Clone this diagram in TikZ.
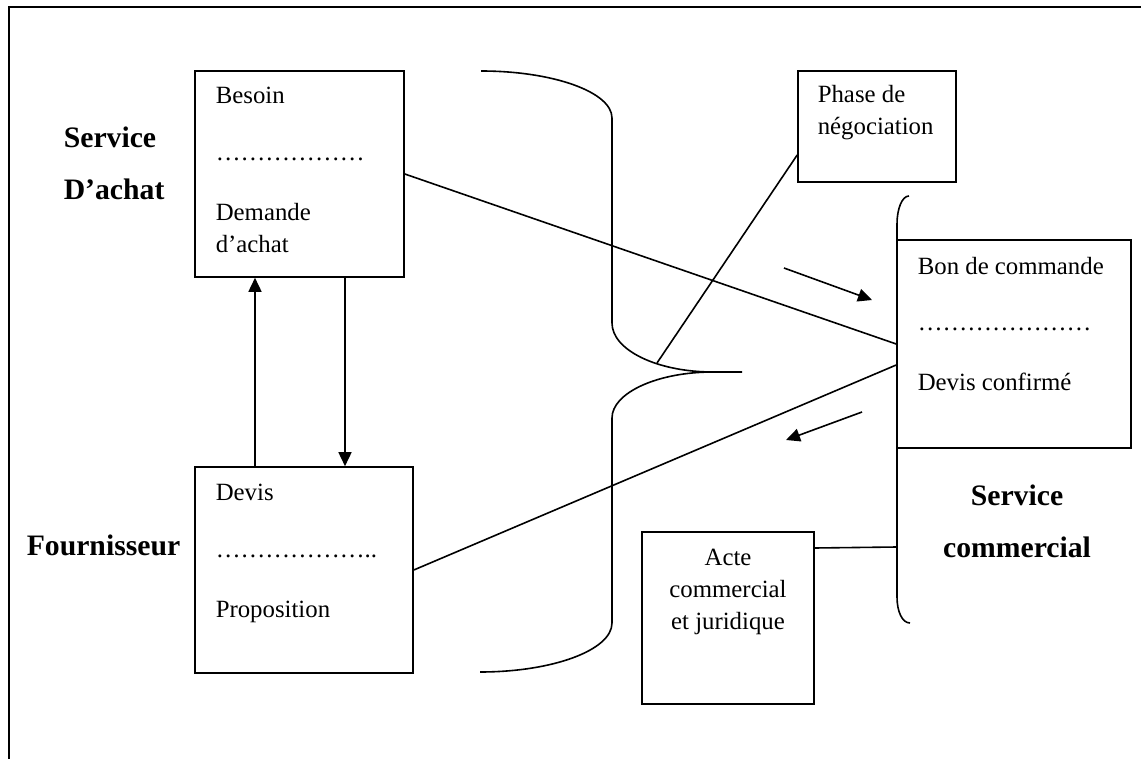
\documentclass[tikz,border=0pt]{standalone}
\usepackage{fontspec}
\setmainfont{Liberation Serif}
\usetikzlibrary{arrows.meta}
\tikzset{
	boite/.style={draw, inner sep=0pt},
	txt/.style={anchor=base west, inner sep=0pt, font=\fontsize{12.4pt}{16pt}\selectfont},
	txtc/.style={txt, anchor=base},
	titre/.style={anchor=base west, inner sep=0pt, font=\fontsize{14.85pt}{18pt}\selectfont\bfseries},
	fleche/.style={-{Triangle[length=7pt,width=6.5pt]}}
}
\begin{document}
\begin{tikzpicture}[x=0.5pt,y=-0.5pt,line width=0.8pt]
	\useasboundingbox (0,0) rectangle (1141,759);
	\draw (1141,7) -- (9,7) -- (9,759);
	\node[boite, minimum width=104.5pt, minimum height=103pt] (besoin) at (299.5,174) {};
	\node[boite, minimum width=109pt, minimum height=103pt] (devis) at (304,570) {};
	\node[boite, minimum width=79pt, minimum height=55.5pt] (phase) at (877,126.5) {};
	\node[boite, minimum width=117pt, minimum height=104pt] (bon) at (1014,344) {};
	\node[boite, minimum width=86pt, minimum height=86pt] (acte) at (728,618) {};
	\node[txt] (t-besoin) at (215,104) {Besoin};
	\node[txt] (t-pts1) at (215,161) {………………};
	\node[txt] (t-demande) at (215,221) {Demande};
	\node[txt] (t-dachat) at (215,253) {d’achat};
	\node[txt] (t-devis) at (215,500) {Devis};
	\node[txt] (t-pts2) at (215,557) {………………..};
	\node[txt] (t-propo) at (215,617) {Proposition};
	\node[txt] (t-phase) at (817,103) {Phase de};
	\node[txt] (t-nego) at (817,135) {négociation};
	\node[txt] (t-bon) at (917,275) {Bon de commande};
	\node[txt] (t-pts3) at (917,331) {…………………};
	\node[txt] (t-confirme) at (917,391) {Devis confirmé};
	\node[txtc] (t-acte) at (728,565) {Acte};
	\node[txtc] (t-comm) at (728,597) {commercial};
	\node[txtc] (t-jur) at (728,629) {et juridique};
	\node[titre] (sa1) at (63,148) {Service};
	\node[titre] (sa2) at (63,200) {D’achat};
	\node[titre] (four) at (26,555) {Fournisseur};
	\node[titre, anchor=base] (sc1) at (1017,505) {Service};
	\node[titre, anchor=base] (sc2) at (1017,557) {commercial};
	% accolades
	\draw (481,71) .. controls (553,71) and (612,92) .. (612,118) -- (612,323) .. controls (612,350) and (657,372) .. (713,372) -- (742,372);
	\draw (713,372) .. controls (657,372) and (612,393) .. (612,418) -- (612,623) .. controls (612,650) and (553,672) .. (480,672);
	\draw (909,196) .. controls (902,196) and (897,209) .. (897,224) -- (897,597) .. controls (897,611) and (902,623) .. (910,623);
	\coordinate (pointe) at (657,363);
	\coordinate (accd) at (897,547);
	\coordinate (f1a) at (784,268);
	\coordinate (f1b) at (872,300);
	\coordinate (f2a) at (862,412);
	\coordinate (f2b) at (786,440);
	\draw[fleche] ([xshift=-24.5pt]devis.north) -- ([xshift=-22.25pt]besoin.south);
	\draw[fleche] ([xshift=22.75pt]besoin.south) -- ([xshift=20.5pt]devis.north);
	\draw (besoin.east) -- (bon.west);
	\draw (devis.east) -- ([yshift=-10.5pt]bon.west);
	\draw ([yshift=-14.25pt]phase.west) -- (pointe);
	\draw ([yshift=35pt]acte.east) -- (accd);
	\draw[fleche] (f1a) -- (f1b);
	\draw[fleche] (f2a) -- (f2b);
\end{tikzpicture}
\end{document}
